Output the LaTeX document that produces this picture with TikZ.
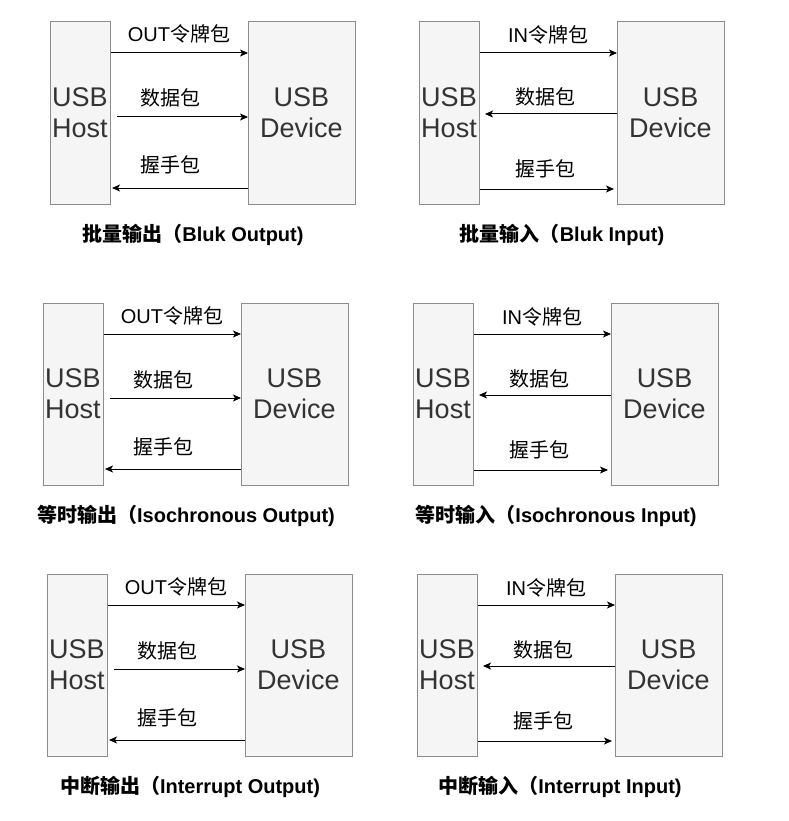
\documentclass[tikz,border=0pt]{standalone}
\usepackage{fontspec}
\setmainfont{Liberation Sans}
\newfontfamily\cjk{Noto Sans CJK SC}
\usetikzlibrary{arrows.meta}
\definecolor{boxfill}{HTML}{F5F5F5}
\definecolor{boxline}{HTML}{8C8C8C}
\definecolor{boxtext}{HTML}{333333}
\tikzset{
  hostbox/.style={draw=boxline, fill=boxfill, line width=1pt, minimum width=60pt,
    minimum height=182pt, inner sep=0pt, outer sep=0pt, anchor=north west,
    align=center, text=boxtext, font=\fontsize{27}{31}\selectfont},
  devbox/.style={hostbox, minimum width=107pt},
  msg/.style={draw=black, line width=1pt, -{Stealth[length=8pt,width=7pt,inset=2pt]}},
  msglabel/.style={anchor=base, inner sep=0pt, font=\fontsize{20}{24}\selectfont},
  paneltitle/.style={anchor=base, inner sep=0pt, font=\fontsize{20}{24}\selectfont\bfseries},
}
\newcommand\outpanel[4]{%
  \node[hostbox] (h#3) at (#1,#2) {USB\\Host};
  \node[devbox] (d#3) at (#1+198,#2) {USB\\Device};
  \draw[msg] ([xshift=1pt,yshift=-31pt]h#3.north east) -- ([yshift=-31pt]d#3.north west);
  \draw[msg] ([xshift=7pt,yshift=-95pt]h#3.north east) -- ([yshift=-95pt]d#3.north west);
  \draw[msg] ([yshift=-166pt]d#3.north west) -- ([xshift=2pt,yshift=-166pt]h#3.north east);
  \node[msglabel] (a#3) at (#1+129,#2+20) {OUT{\cjk 令牌包}};
  \node[msglabel] (b#3) at (#1+120,#2+84) {\cjk 数据包};
  \node[msglabel] (c#3) at (#1+120,#2+151) {\cjk 握手包};
  \node[paneltitle] (n#3) at (#1+143,#2+219) {#4};
}
\newcommand\inpanel[4]{%
  \node[hostbox] (h#3) at (#1,#2) {USB\\Host};
  \node[devbox] (d#3) at (#1+198,#2) {USB\\Device};
  \draw[msg] ([xshift=1pt,yshift=-31pt]h#3.north east) -- ([yshift=-31pt]d#3.north west);
  \draw[msg] ([yshift=-92pt]d#3.north west) -- ([xshift=6pt,yshift=-92pt]h#3.north east);
  \draw[msg] ([xshift=1pt,yshift=-167pt]h#3.north east) -- ([xshift=-3pt,yshift=-167pt]d#3.north west);
  \node[msglabel] (a#3) at (#1+129,#2+21) {IN{\cjk 令牌包}};
  \node[msglabel] (b#3) at (#1+126,#2+83) {\cjk 数据包};
  \node[msglabel] (c#3) at (#1+126,#2+154) {\cjk 握手包};
  \node[paneltitle] (n#3) at (#1+143,#2+219) {#4};
}
\begin{document}
\begin{tikzpicture}[x=1pt,y=-1pt]
  \fill[white] (0,0) rectangle (788,821);
  \useasboundingbox (0,0) rectangle (788,821);
  \outpanel{50}{22}{1}{{\cjk 批量输出（}Bluk Output)}
  \inpanel{419}{22}{2}{{\cjk 批量输入（}Bluk Input)}
  \outpanel{43}{303}{3}{{\cjk 等时输出（}Isochronous Output)}
  \inpanel{413}{303}{4}{{\cjk 等时输入（}Isochronous Input)}
  \outpanel{47}{574}{5}{{\cjk 中断输出（}Interrupt Output)}
  \inpanel{417}{574}{6}{{\cjk 中断输入（}Interrupt Input)}
\end{tikzpicture}
\end{document}
